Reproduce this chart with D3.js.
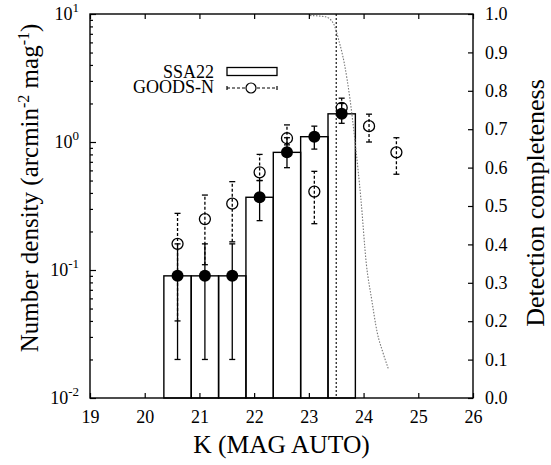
<!DOCTYPE html>
<html><head><meta charset="utf-8">
<script src="https://cdn.jsdelivr.net/npm/d3@7"></script>
<style>body{margin:0;background:#fff}svg text{font-family:'Liberation Serif','Times New Roman',Times,'DejaVu Serif',serif;fill:#000}</style>
</head><body><svg id="c" width="551" height="465"></svg>
<script>
const binEdges=[20.35,20.85,21.35,21.85,22.35,22.85,23.35,23.85];
const ssaMag=[20.6,21.1,21.6,22.1,22.6,23.1,23.6];
const ssaDensity=[0.09,0.09,0.09,0.37,0.83,1.10,1.66];
const ssaLow=[0.02,0.02,0.02,0.243,0.63,0.88,1.40];
const ssaHigh=[0.16,0.16,0.16,0.5,1.08,1.33,2.0];
const goodsMag=[20.6,21.1,21.6,22.1,22.6,23.1,23.6,24.1,24.6];
const goodsDensity=[0.16,0.25,0.33,0.58,1.07,0.41,1.85,1.33,0.83];
const goodsLow=[0.04,0.11,0.166,0.50,0.95,0.23,1.6,1.0,0.56];
const goodsHigh=[0.277,0.385,0.49,0.80,1.36,0.59,2.2,1.65,1.08];
const complMag=[23.02,23.3,23.45,23.55,23.65,23.75,23.85,23.95,24.05,24.15,24.25,24.35,24.45];
const complValue=[0.996,0.993,0.975,0.93,0.87,0.78,0.66,0.52,0.35,0.255,0.17,0.12,0.077];
const limitMag=23.5;
const xTicks=[19,20,21,22,23,24,25,26];
const yTickExp=[-2,-1,0,1];
const complTicks=[0,0.1,0.2,0.3,0.4,0.5,0.6,0.7,0.8,0.9,1.0];

const FONT="'Liberation Serif','Times New Roman',Times,'DejaVu Serif',serif";
const L=90,R=473,T=14,B=398;
const svg=d3.select("#c").attr("font-family",FONT);
const x=d3.scaleLinear([19,26],[L,R]);
const y=d3.scaleLog([0.01,10],[B,T]);
const yc=d3.scaleLinear([0,1],[B,T]);

// bars
const bars=ssaDensity.map((v,i)=>({x0:binEdges[i],x1:binEdges[i+1],v}));
svg.append("g").selectAll("rect").data(bars).join("rect")
  .attr("x",d=>x(d.x0)).attr("width",d=>x(d.x1)-x(d.x0))
  .attr("y",d=>y(d.v)).attr("height",d=>B-y(d.v))
  .attr("fill","none").attr("stroke","#000").attr("stroke-width",1.4);

// limit line
svg.append("line").attr("x1",x(limitMag)).attr("x2",x(limitMag)).attr("y1",T).attr("y2",B)
  .attr("stroke","#000").attr("stroke-width",1.1).attr("stroke-dasharray","2,2");

// completeness curve
svg.append("path").datum(complMag.map((m,i)=>[m,complValue[i]]))
  .attr("d",d3.line().x(d=>x(d[0])).y(d=>yc(d[1])).curve(d3.curveMonotoneX))
  .attr("fill","none").attr("stroke","#777").attr("stroke-width",1.1).attr("stroke-dasharray","1.5,1.5");

function errbars(mags,lo,hi,dash){
  const g=svg.append("g").attr("stroke","#000").attr("stroke-width",1.3);
  mags.forEach((m,i)=>{
    const cx=x(m);
    g.append("line").attr("x1",cx).attr("x2",cx).attr("y1",y(lo[i])).attr("y2",y(hi[i])).attr("stroke-dasharray",dash);
    [lo[i],hi[i]].forEach(v=>g.append("line").attr("x1",cx-3).attr("x2",cx+3).attr("y1",y(v)).attr("y2",y(v)));
  });
}
errbars(goodsMag,goodsLow,goodsHigh,"3,2");
svg.append("g").selectAll("circle").data(goodsMag).join("circle")
  .attr("cx",d=>x(d)).attr("cy",(d,i)=>y(goodsDensity[i])).attr("r",5.5)
  .attr("fill","none").attr("stroke","#000").attr("stroke-width",1.3);
errbars(ssaMag,ssaLow,ssaHigh,null);
svg.append("g").selectAll("circle").data(ssaMag).join("circle")
  .attr("cx",d=>x(d)).attr("cy",(d,i)=>y(ssaDensity[i])).attr("r",6)
  .attr("fill","#000");

// axes
function style(g){g.attr("font-family",FONT).attr("font-size",18);g.select(".domain").remove();g.selectAll("line").attr("stroke","#000").attr("stroke-width",1.2);
  g.selectAll("text").attr("fill","#000");}
svg.append("g").attr("transform",`translate(0,${B})`)
  .call(d3.axisBottom(x).tickValues(xTicks).tickSize(-5).tickPadding(12).tickFormat(d3.format("d"))).call(style);
svg.append("g").attr("transform",`translate(0,${T})`)
  .call(d3.axisTop(x).tickValues(xTicks).tickSize(-5).tickFormat("")).call(style);
const major=yTickExp.map(e=>Math.pow(10,e));
const minor=[];yTickExp.slice(0,-1).forEach(e=>{for(let k=2;k<10;k++)minor.push(k*Math.pow(10,e));});
svg.append("g").attr("transform",`translate(${L},0)`)
  .call(d3.axisLeft(y).tickValues(major).tickSize(-6).tickFormat("")).call(style);
svg.append("g").attr("transform",`translate(${L},0)`)
  .call(d3.axisLeft(y).tickValues(minor).tickSize(-3).tickFormat("")).call(style);
svg.append("g").attr("transform",`translate(${R},0)`)
  .call(d3.axisRight(yc).tickValues(complTicks).tickSize(-5).tickPadding(12).tickFormat(d3.format(".1f"))).call(style);

// left labels
yTickExp.forEach(e=>{
  const t=svg.append("text").attr("x",79).attr("y",y(Math.pow(10,e))+6).attr("text-anchor","end").attr("font-size",18);
  t.append("tspan").text("10");
  t.append("tspan").attr("dy",-8).attr("font-size",13).text(String(e));
});

// frame
svg.append("rect").attr("x",L).attr("y",T).attr("width",R-L).attr("height",B-T)
  .attr("fill","none").attr("stroke","#000").attr("stroke-width",1.4);

// titles
svg.append("text").attr("x",(L+R)/2).attr("y",453).attr("text-anchor","middle").attr("font-size",25.5).text("K (MAG AUTO)");
const lt=svg.append("text").attr("transform","translate(38,188) rotate(-90)").attr("text-anchor","middle").attr("font-size",25);
lt.append("tspan").text("Number density (arcmin");
lt.append("tspan").attr("dy",-9).attr("font-size",16).text("-2");
lt.append("tspan").attr("dy",9).text(" mag");
lt.append("tspan").attr("dy",-9).attr("font-size",16).text("-1");
lt.append("tspan").attr("dy",9).text(")");
svg.append("text").attr("transform","translate(544,203) rotate(-90)").attr("text-anchor","middle").attr("font-size",26).text("Detection completeness");

// legend
svg.append("text").attr("x",214).attr("y",77.5).attr("text-anchor","end").attr("font-size",18).text("SSA22");
svg.append("text").attr("x",214).attr("y",93).attr("text-anchor","end").attr("font-size",18).text("GOODS-N");
svg.append("rect").attr("x",227).attr("y",67.5).attr("width",50).attr("height",8)
  .attr("fill","none").attr("stroke","#000").attr("stroke-width",1.3);
const lg=svg.append("g").attr("stroke","#000").attr("stroke-width",1.2);
lg.append("line").attr("x1",227).attr("x2",277).attr("y1",88).attr("y2",88).attr("stroke-dasharray","3,2");
lg.append("line").attr("x1",227).attr("x2",227).attr("y1",86).attr("y2",90);
lg.append("line").attr("x1",277).attr("x2",277).attr("y1",86).attr("y2",90);
lg.append("circle").attr("cx",251).attr("cy",88).attr("r",5).attr("fill","#fff");
</script></body></html>
